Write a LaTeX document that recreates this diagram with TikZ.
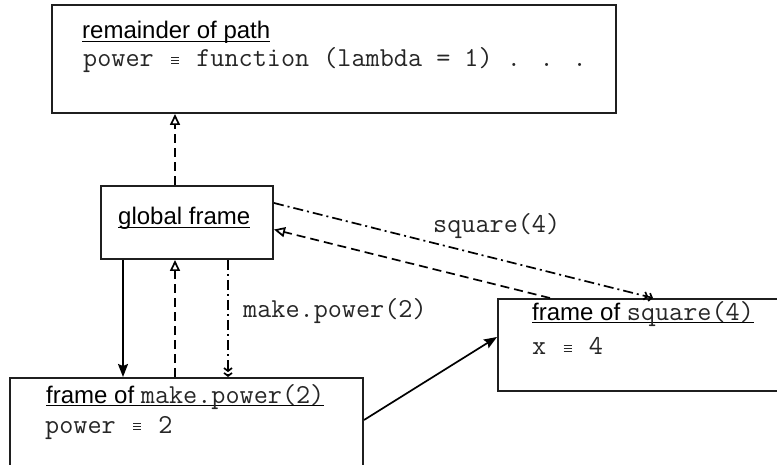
\documentclass[tikz,border=0pt]{standalone}
\usepackage{fontspec}
\setmainfont{Liberation Sans}
\usetikzlibrary{arrows.meta}
% underline that sits just below the baseline, across descenders
\newcommand\ulbar[1]{\setbox0\hbox{#1}\rlap{\rule[-3.4pt]{\wd0}{1.3pt}}\box0}
% typewriter code, one character cell = 14.4pt
\newcommand\cd[1]{\textcolor{black!85}{\fontsize{27.4}{30}\selectfont\ttfamily #1}}
% a small "identical to" sign filling one code cell
\newcommand\eqv{\makebox[14.4pt]{\rlap{\rule[2.6pt]{8pt}{1pt}}\rlap{\rule[5.9pt]{8pt}{1pt}}\rule[9.2pt]{8pt}{1pt}}}
\tikzset{
  frame box/.style={draw=black!88, line width=2pt, rectangle, inner sep=0pt, fill=white},
  txt/.style={anchor=base west, inner sep=0pt, font=\fontsize{24}{28}\selectfont},
  link/.style={line width=1.7pt, draw=black},
  call/.style={link, -{Stealth[length=13pt,width=10pt,inset=2pt]}},
  env/.style={link, dash pattern=on 9pt off 5pt, -{Triangle[open,length=11pt,width=10pt,line width=1.7pt]}},
  spawn/.style={link, dash pattern=on 10pt off 4pt on 2pt off 4pt,
    -{Straight Barb[length=3pt,width=8pt,line width=1.7pt] Straight Barb[length=3pt,width=8pt,line width=1.7pt]}},
}
\begin{document}
\begin{tikzpicture}[x=1pt, y=-1pt]
\useasboundingbox (0,0) rectangle (777,465);
\clip (0,0) rectangle (777,465);

% frames
\node[frame box, minimum width=564pt, minimum height=108pt] (top) at (334,59) {};
\node[frame box, minimum width=172pt, minimum height=73pt] (glob) at (187,222.5) {};
\node[frame box, minimum width=353pt, minimum height=100pt] (left) at (186.5,428) {};
\node[frame box, minimum width=292pt, minimum height=92pt] (right) at (644,345) {};

% frame contents
\node[txt] (topttl) at (82,39) {\ulbar{remainder of path}};
\node[txt] (topln) at (83,67) {\cd{power \eqv{} function (lambda = 1) . . .}};
\node[txt] (globttl) at (118,225) {\ulbar{global frame}};
\node[txt] (leftttl) at (46,403) {\ulbar{frame of \cd{make.power(2)}}};
\node[txt] (leftln) at (45,433) {\cd{power \eqv{} 2}};
\node[txt] (rightttl) at (532,320) {\ulbar{frame of \cd{square(4)}}};
\node[txt] (rightln) at (532,355) {\cd{x \eqv{} 4}};

% call labels
\node[txt] (sqlbl) at (433,233) {\cd{square(4)}};
\node[txt] (mplbl) at (243,318) {\cd{make.power(2)}};

% enclosing-environment links
\draw[env] ([xshift=-12pt]glob.north) -- ([xshift=-12pt]glob.north |- top.south);
\draw[env] ([xshift=-12pt]glob.south |- left.north) -- ([xshift=-12pt]glob.south);
\draw[env] ([xshift=-94pt]right.north) -- ([yshift=-7pt]glob.east);

% calls
\draw[call] ([xshift=-64pt]glob.south) -- ([xshift=-64pt]glob.south |- left.north);
\draw[call] ([yshift=8pt]left.east) -- ([yshift=8pt]right.west);
\draw[spawn] ([xshift=41pt]glob.south) -- ([xshift=41pt]glob.south |- left.north);
\draw[spawn] ([yshift=19.5pt]glob.east) -- ([xshift=9pt]right.north);
\end{tikzpicture}
\end{document}
